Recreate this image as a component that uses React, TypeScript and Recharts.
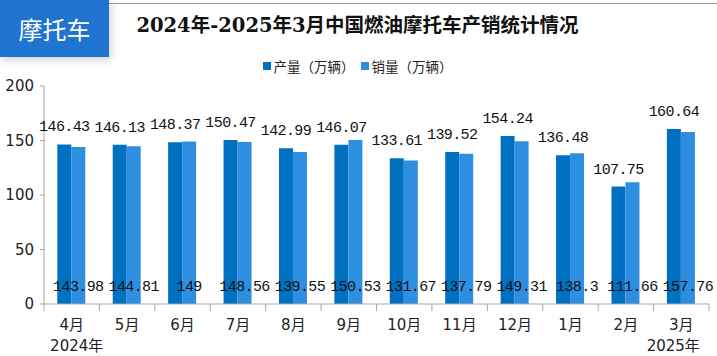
import React from "react";
import { BarChart, Bar, XAxis, YAxis, LabelList } from "recharts";

const months = ["4月", "5月", "6月", "7月", "8月", "9月", "10月", "11月", "12月", "1月", "2月", "3月"];
const production = [146.43, 146.13, 148.37, 150.47, 142.99, 146.07, 133.61, 139.52, 154.24, 136.48, 107.75, 160.64];
const sales = [143.98, 144.81, 149, 148.56, 139.55, 150.53, 131.67, 137.79, 149.31, 138.3, 111.66, 157.76];
const yTicks = [0, 50, 100, 150, 200];
const yearLabels: Record<number, string> = { 0: "2024年", 11: "2025年" };

const data = months.map((m, i) => ({ month: m, prod: production[i], sales: sales[i] }));

const W = 717;
const H = 356;
const PLOT_LEFT = 44;
const PLOT_RIGHT = 709;
const BAND = (PLOT_RIGHT - PLOT_LEFT) / months.length;
const PROD_COLOR = "#0070C0";
const SALES_COLOR = "#2E8FE0";
const AXIS_COLOR = "#A6A6A6";
const LABEL_FONT = "'Liberation Mono', 'DejaVu Sans Mono', monospace";
const CJK_FONT = "'DejaVu Sans', 'Noto Sans CJK SC', sans-serif";

const XTick = (props: any) => {
  const { x, y, payload, index } = props;
  const left = x - BAND / 2;
  const right = x + BAND / 2;
  const year = yearLabels[index];
  return (
    <g>
      <line x1={left} y1={y} x2={left} y2={y + 7} stroke={AXIS_COLOR} strokeWidth={1} />
      {index === months.length - 1 && (
        <line x1={right} y1={y} x2={right} y2={y + 7} stroke={AXIS_COLOR} strokeWidth={1} />
      )}
      <text x={x} y={y + 26} textAnchor="middle" fontSize={15} fill="#222" fontFamily={CJK_FONT}>
        {payload.value}
      </text>
      {year && (
        <text
          x={x + (index === 0 ? 5 : -8)}
          y={y + 47}
          textAnchor="middle"
          fontSize={15}
          fill="#222"
          fontFamily={CJK_FONT}
        >
          {year}
        </text>
      )}
    </g>
  );
};

const LegendItem = ({ color, label }: { color: string; label: string }) => (
  <span style={{ display: "flex", alignItems: "center" }}>
    <span style={{ width: 8, height: 8, background: color, marginRight: 3, display: "inline-block" }} />
    {label}
  </span>
);

export default function App() {
  return (
    <div style={{ position: "absolute", left: 0, top: 0, width: W, height: H, background: "#fff", overflow: "hidden" }}>
      <div style={{ position: "absolute", left: 100, top: 3, width: W - 100, height: 1, background: "#999" }} />
      <div
        style={{
          position: "absolute",
          left: 0,
          top: 0,
          width: 109,
          height: 57,
          background: "#1E74CF",
          color: "#fff",
          fontFamily: "'Noto Sans CJK SC', sans-serif",
          fontSize: 24,
          display: "flex",
          alignItems: "center",
          justifyContent: "center",
          boxShadow: "2px 3px 8px rgba(0,0,0,0.18)",
          zIndex: 2,
        }}
      >
        摩托车
      </div>
      <div
        style={{
          position: "absolute",
          left: 0,
          top: 12,
          width: W - 2,
          textAlign: "center",
          fontFamily: "'DejaVu Serif', 'Noto Sans CJK SC', serif",
          fontWeight: "bold",
          fontSize: 19.5,
          color: "#111",
          lineHeight: "28px",
        }}
      >
        2024年-2025年3月中国燃油摩托车产销统计情况
      </div>
      <div
        style={{
          position: "absolute",
          left: 0,
          top: 56,
          width: W - 2,
          height: 20,
          display: "flex",
          justifyContent: "center",
          alignItems: "center",
          fontFamily: CJK_FONT,
          fontSize: 13.5,
          color: "#222",
          gap: 6,
          zIndex: 1,
        }}
      >
        <LegendItem color={PROD_COLOR} label="产量（万辆）" />
        <LegendItem color={SALES_COLOR} label="销量（万辆）" />
      </div>
      <BarChart
        width={W}
        height={H}
        data={data}
        margin={{ top: 86, right: W - PLOT_RIGHT, bottom: 22, left: 0 }}
        barCategoryGap="24%"
        barGap={0}
      >
        <XAxis
          dataKey="month"
          stroke={AXIS_COLOR}
          tickLine={false}
          tickSize={0}
          tickMargin={0}
          height={30}
          interval={0}
          tick={<XTick />}
        />
        <YAxis
          width={PLOT_LEFT}
          domain={[0, 200]}
          ticks={yTicks}
          stroke={AXIS_COLOR}
          tickSize={4}
          tickMargin={6}
          tick={{ fill: "#222", fontSize: 15, fontFamily: CJK_FONT }}
          interval={0}
        />
        <Bar dataKey="prod" fill={PROD_COLOR} isAnimationActive={false}>
          <LabelList
            dataKey="prod"
            position="top"
            offset={13}
            fill="#111"
            fontSize={15}
            fontFamily={LABEL_FONT}
            letterSpacing={-0.6}
          />
        </Bar>
        <Bar dataKey="sales" fill={SALES_COLOR} isAnimationActive={false}>
          <LabelList
            dataKey="sales"
            position="insideBottom"
            offset={13}
            fill="#111"
            fontSize={15}
            fontFamily={LABEL_FONT}
            letterSpacing={-0.6}
          />
        </Bar>
      </BarChart>
    </div>
  );
}
